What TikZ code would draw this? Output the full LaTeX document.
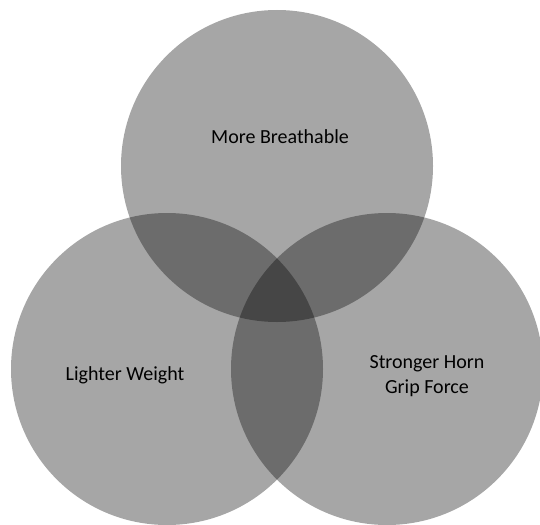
\documentclass[tikz,border=0pt]{standalone}
\usepackage{fontspec}
\setmainfont{Carlito}
\begin{document}
\begin{tikzpicture}[x=1pt, y=-1pt]
  \tikzstyle{lobe}=[circle, minimum size=312pt, inner sep=0pt, fill=black, fill opacity=0.35]
  \tikzstyle{tag}=[align=center, font=\fontsize{20}{25}\selectfont, text=black]
  \useasboundingbox (0,0) rectangle (540,524);

  \node[lobe] (breathable) at (277,166) {};
  \node[lobe] (lighter) at (167,369) {};
  \node[lobe] (stronger) at (387,369) {};

  \node[tag] (breathabletxt) at (280,137) {More Breathable};
  \node[tag] (lightertxt) at (125,375) {Lighter Weight};
  \node[tag] (strongertxt) at (427,376) {Stronger Horn\\Grip Force};
\end{tikzpicture}
\end{document}
